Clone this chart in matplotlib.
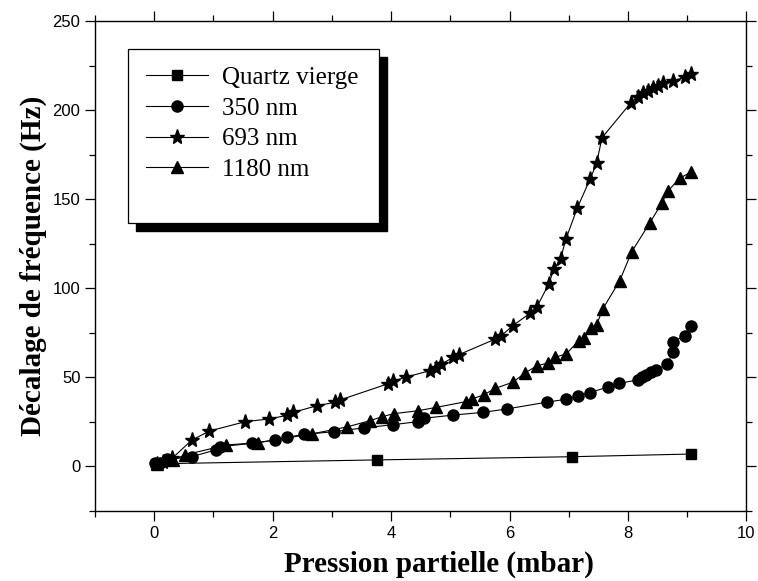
import matplotlib
matplotlib.use("Agg")
import matplotlib.pyplot as plt
from matplotlib.patches import Rectangle
from matplotlib.ticker import MultipleLocator

# Partial pressure (mbar) and frequency shift (Hz) for each coating
quartz_x = [0.03, 3.76, 7.06, 9.07]
quartz_y = [1.5, 3.7, 5.5, 7.0]

nm350_x = [0.01, 0.10, 0.22, 0.63, 1.04, 1.11, 1.65, 2.04, 2.24, 2.53, 3.04, 3.54,
           4.04, 4.45, 4.56, 5.05, 5.55, 5.95, 6.64, 6.96, 7.16, 7.36, 7.67, 7.85,
           8.16, 8.23, 8.30, 8.38, 8.47, 8.66, 8.76, 8.76, 8.96, 9.07]
nm350_y = [1.8, 1.8, 4.0, 5.5, 9.3, 11.1, 13.0, 14.9, 16.4, 18.0, 19.6, 21.7,
           23.5, 25.2, 27.1, 28.9, 30.4, 32.3, 36.2, 37.8, 39.6, 41.5, 44.8, 46.7,
           48.6, 50.1, 51.4, 52.9, 54.2, 57.4, 64.5, 70.1, 73.5, 78.9]

nm693_x = [0.05, 0.15, 0.30, 0.63, 0.93, 1.54, 1.94, 2.24, 2.35, 2.75, 3.05, 3.14,
           3.95, 4.04, 4.25, 4.65, 4.75, 4.85, 5.05, 5.15, 5.76, 5.86, 6.05, 6.35,
           6.46, 6.66, 6.75, 6.86, 6.95, 7.14, 7.36, 7.47, 7.56, 8.05, 8.16, 8.26,
           8.34, 8.43, 8.51, 8.59, 8.76, 8.96, 9.07]
nm693_y = [1.5, 2.5, 4.5, 14.7, 19.9, 25.2, 26.7, 28.7, 30.4, 34.2, 36.0, 37.4,
           46.5, 48.0, 50.2, 53.8, 55.5, 57.6, 61.3, 62.9, 71.6, 73.4, 79.0, 86.2,
           89.6, 102.4, 111.1, 116.6, 127.6, 145.0, 161.5, 170.3, 184.7, 204.4, 207.8, 209.7,
           211.0, 212.5, 213.8, 215.3, 216.7, 218.6, 220.5]

nm1180_x = [0.05, 0.32, 0.52, 1.22, 1.76, 2.66, 3.25, 3.64, 3.85, 4.05, 4.45, 4.76,
            5.26, 5.37, 5.56, 5.76, 6.06, 6.26, 6.46, 6.65, 6.77, 6.96, 7.17, 7.26,
            7.37, 7.47, 7.57, 7.86, 8.06, 8.37, 8.57, 8.67, 8.87, 9.07]
nm1180_y = [1.5, 3.6, 6.5, 12.1, 13.4, 18.3, 22.2, 25.7, 28.0, 29.7, 31.3, 33.2,
            36.4, 38.0, 40.2, 43.9, 47.4, 52.6, 56.5, 58.2, 61.3, 63.4, 70.7, 72.0,
            77.8, 79.5, 88.3, 104.4, 120.5, 137.0, 147.9, 154.6, 161.9, 165.5]

labels = ["Quartz vierge", "350 nm", "693 nm", "1180 nm"]

serif = ["Liberation Serif", "DejaVu Serif"]
sans = ["Liberation Sans", "DejaVu Sans"]

fig = plt.figure(figsize=(7.58, 5.81), dpi=100)
ax = fig.add_axes([0.1253, 0.1205, 0.9848 - 0.1253, 0.963 - 0.1205])

line_kw = dict(color="black", lw=0.8, markerfacecolor="black", markeredgecolor="black")
ax.plot(quartz_x, quartz_y, marker="s", ms=6.5, label=labels[0], **line_kw)
ax.plot(nm350_x, nm350_y, marker="o", ms=8, label=labels[1], **line_kw)
ax.plot(nm693_x, nm693_y, marker="*", ms=11, label=labels[2], **line_kw)
ax.plot(nm1180_x, nm1180_y, marker="^", ms=8.5, label=labels[3], **line_kw)

ax.set_xlim(-1, 10)
ax.set_ylim(-25, 250)
ax.xaxis.set_major_locator(MultipleLocator(2))
ax.xaxis.set_minor_locator(MultipleLocator(1))
ax.yaxis.set_major_locator(MultipleLocator(50))
ax.yaxis.set_minor_locator(MultipleLocator(25))
ax.tick_params(which="both", direction="out", top=True, right=True,
               labeltop=False, labelright=False, width=0.9, color="black")
ax.tick_params(which="major", length=7)
ax.tick_params(which="minor", length=4)
for lab in ax.get_xticklabels() + ax.get_yticklabels():
    lab.set_family(sans)
    lab.set_fontsize(12)
for sp in ax.spines.values():
    sp.set_linewidth(1.0)

ax.set_xlabel("Pression partielle (mbar)", family=serif, fontweight="bold", fontsize=21)
ax.set_ylabel("Décalage de fréquence (Hz)", family=serif, fontweight="bold", fontsize=21)
ax.xaxis.set_label_coords(0.528, -0.081)

# Legend panel with a drop shadow
bx0, by0, bw, bh = 0.0502, 0.5884, 0.3853, 0.3554
dx, dy = 8 / 651.5, 8 / 489.5
ax.add_patch(Rectangle((bx0 + dx, by0 - dy), bw, bh, transform=ax.transAxes,
                       facecolor="black", edgecolor="black", zorder=5))
ax.add_patch(Rectangle((bx0, by0), bw, bh, transform=ax.transAxes,
                       facecolor="white", edgecolor="black", lw=0.9, zorder=6))
leg = ax.legend(loc="upper left", bbox_to_anchor=(0.0783, 0.9085), frameon=False,
                prop={"family": serif, "size": 18}, handlelength=2.5,
                handletextpad=0.55, labelspacing=0.33, borderpad=0, borderaxespad=0)
leg.set_zorder(7)

fig.savefig("out.png", dpi=100)
